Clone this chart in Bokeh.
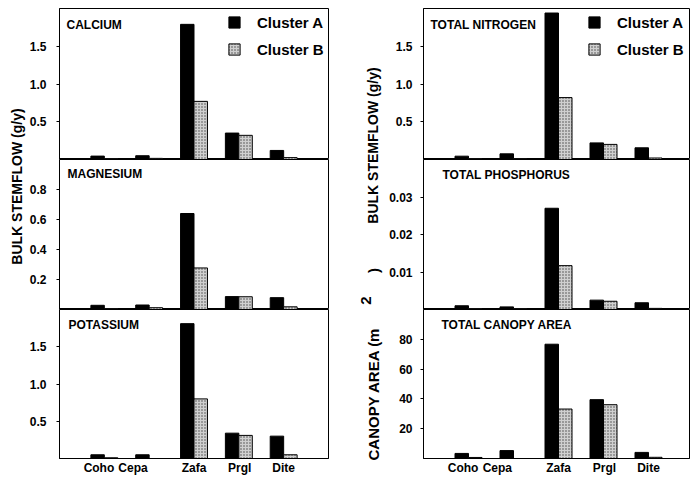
import math
from bokeh.plotting import figure
from bokeh.layouts import row, column
from bokeh.models import ColumnDataSource, FixedTicker, Label, Legend, LegendItem, Range1d
from bokeh.embed import file_html
from bokeh.resources import INLINE

# ---------------- data ----------------
categories = ["Coho", "Cepa", "Zafa", "Prgl", "Dite"]
series_names = ["Cluster A", "Cluster B"]

calcium_a = [0.045, 0.05, 1.79, 0.35, 0.12]
calcium_b = [0.01, 0.015, 0.77, 0.32, 0.025]
magnesium_a = [0.028, 0.03, 0.64, 0.086, 0.079]
magnesium_b = [0.005, 0.012, 0.277, 0.085, 0.018]
potassium_a = [0.05, 0.05, 1.81, 0.34, 0.30]
potassium_b = [0.01, 0.0, 0.80, 0.31, 0.05]
nitrogen_a = [0.044, 0.075, 1.94, 0.22, 0.155]
nitrogen_b = [0.01, 0.01, 0.82, 0.20, 0.02]
phosphorus_a = [0.001, 0.0007, 0.027, 0.0025, 0.0018]
phosphorus_b = [0.0002, 0.0002, 0.0117, 0.0022, 0.0003]
canopy_a = [3.4, 5.3, 76.7, 39.5, 4.1]
canopy_b = [0.7, 0.0, 33.2, 36.1, 0.8]

ticks_2 = [0.5, 1.0, 1.5]
ticks_2_text = ["0.5", "1.0", "1.5"]
ticks_mg = [0.2, 0.4, 0.6, 0.8]
ticks_mg_text = ["0.2", "0.4", "0.6", "0.8"]
ticks_p = [0.01, 0.02, 0.03]
ticks_p_text = ["0.01", "0.02", "0.03"]
ticks_c = [20, 40, 60, 80]
ticks_c_text = ["20", "40", "60", "80"]

# ---------------- style / layout ----------------
FONT = "Liberation Sans"
label_shift = [-0.12, -0.36, 0.0, 0.02, 0.0]


def panel(title, va, vb, ymax, ticks, tick_text, frame_w, frame_h, xmax,
          bl, br, bt, bb, standoff, tdx, tdy, legend_xy=None, show_x=False):
    p = figure(frame_width=frame_w, frame_height=frame_h,
               x_range=Range1d(0, xmax), y_range=Range1d(0, ymax),
               min_border_left=bl, min_border_right=br, min_border_top=bt,
               min_border_bottom=bb, toolbar_location=None, output_backend="svg")
    p.title.visible = False
    p.grid.visible = False
    p.outline_line_color = "black"
    p.outline_line_width = 1
    xs = [i + 1 for i in range(len(categories))]
    src = ColumnDataSource(dict(xa=[x - 0.15 for x in xs], xb=[x + 0.15 for x in xs], a=va, b=vb))
    ra = p.vbar(x="xa", top="a", bottom=0, width=0.3, source=src,
                fill_color="black", line_color="black", line_width=1)
    rb = p.vbar(x="xb", top="b", bottom=0, width=0.3, source=src,
                fill_color="#d0d0d0", line_color="black", line_width=1,
                hatch_pattern="dot", hatch_color="#444444", hatch_scale=3, hatch_weight=1)
    ya = p.yaxis[0]
    ya.ticker = FixedTicker(ticks=ticks)
    ya.major_label_overrides = {t: s for t, s in zip(ticks, tick_text)}
    ya.major_tick_out = 3
    ya.major_tick_in = 0
    ya.minor_tick_out = 0
    ya.minor_tick_in = 0
    ya.axis_line_color = "black"
    ya.major_label_standoff = standoff
    ya.major_label_text_font = FONT
    ya.major_label_text_font_style = "bold"
    ya.major_label_text_font_size = "12px"
    ya.major_label_text_color = "black"
    xa = p.xaxis[0]
    if show_x:
        pos = [x + s for x, s in zip(xs, label_shift)]
        xa.ticker = FixedTicker(ticks=pos)
        xa.major_label_overrides = {t: c for t, c in zip(pos, categories)}
        xa.major_tick_out = 0
        xa.major_tick_in = 0
        xa.minor_tick_out = 0
        xa.minor_tick_in = 0
        xa.axis_line_color = "black"
        xa.major_label_standoff = 2
        xa.major_label_text_font = FONT
        xa.major_label_text_font_style = "bold"
        xa.major_label_text_font_size = "12px"
        xa.major_label_text_color = "black"
    else:
        xa.visible = False
    p.add_layout(Label(x=tdx, y=frame_h - tdy, x_units="screen", y_units="screen", text=title,
                       text_baseline="middle", text_font=FONT, text_font_style="bold",
                       text_font_size="12px", text_color="black"))
    if legend_xy is not None:
        leg = Legend(items=[LegendItem(label=series_names[0], renderers=[ra]),
                            LegendItem(label=series_names[1], renderers=[rb])],
                     location=legend_xy, glyph_width=14, glyph_height=14, label_standoff=16,
                     spacing=7, label_height=20, padding=0, margin=0,
                     border_line_alpha=0, background_fill_alpha=0,
                     label_text_font=FONT, label_text_font_style="bold",
                     label_text_font_size="15px", label_text_color="black")
        p.add_layout(leg)
    return p


def strip(w, h):
    s = figure(frame_width=w, frame_height=h, x_range=Range1d(0, 1), y_range=Range1d(0, 1),
               min_border=0, toolbar_location=None, output_backend="svg")
    s.title.visible = False
    s.axis.visible = False
    s.grid.visible = False
    s.outline_line_color = None
    return s


TOP, H1, H2, H3, HB = 8, 151, 150, 149, 18
TOTAL_H = TOP + H1 + H2 + H3 + HB
LW, RW = 269, 266
LXMAX = 6.0
RXMAX = RW / 45.0

l1 = panel("CALCIUM", calcium_a, calcium_b, 2.0, ticks_2, ticks_2_text, LW, H1, LXMAX,
           33, 4, TOP, 0, 10, 7, 16, legend_xy=(168, H1 - 51))
l2 = panel("MAGNESIUM", magnesium_a, magnesium_b, 1.0, ticks_mg, ticks_mg_text, LW, H2, LXMAX,
           33, 4, 0, 0, 10, 8, 14)
l3 = panel("POTASSIUM", potassium_a, potassium_b, 2.0, ticks_2, ticks_2_text, LW, H3, LXMAX,
           33, 4, 0, HB, 10, 9, 15, show_x=True)

r1 = panel("TOTAL NITROGEN", nitrogen_a, nitrogen_b, 2.0, ticks_2, ticks_2_text, RW, H1, RXMAX,
           39, 1, TOP, 0, 8, 7, 16, legend_xy=(164, H1 - 51))
r2 = panel("TOTAL PHOSPHORUS", phosphorus_a, phosphorus_b, 0.04, ticks_p, ticks_p_text, RW, H2, RXMAX,
           39, 1, 0, 0, 8, 19, 15)
r3 = panel("TOTAL CANOPY AREA", canopy_a, canopy_b, 100, ticks_c, ticks_c_text, RW, H3, RXMAX,
           39, 1, 0, HB, 8, 18, 15, show_x=True)

ls = strip(26, TOTAL_H)
ls.add_layout(Label(x=16.5, y=TOTAL_H - 186, x_units="screen", y_units="screen",
                    text="BULK STEMFLOW (g/y)", angle=math.pi / 2, text_align="center",
                    text_baseline="middle", text_font=FONT, text_font_style="bold",
                    text_font_size="14px", text_color="black"))

rs = strip(52, TOTAL_H)
rs.add_layout(Label(x=40.5, y=TOTAL_H - 145, x_units="screen", y_units="screen",
                    text="BULK STEMFLOW (g/y)", angle=math.pi / 2, text_align="center",
                    text_baseline="middle", text_font=FONT, text_font_style="bold",
                    text_font_size="14px", text_color="black"))
rs.add_layout(Label(x=40.5, y=TOTAL_H - 460, x_units="screen", y_units="screen",
                    text="CANOPY AREA (m", angle=math.pi / 2, text_align="left",
                    text_baseline="middle", text_font=FONT, text_font_style="bold",
                    text_font_size="15px", text_color="black"))
rs.add_layout(Label(x=33, y=TOTAL_H - 300, x_units="screen", y_units="screen",
                    text="2", angle=math.pi / 2, text_align="center",
                    text_baseline="middle", text_font=FONT, text_font_style="bold",
                    text_font_size="15px", text_color="black"))
rs.add_layout(Label(x=40.5, y=TOTAL_H - 270, x_units="screen", y_units="screen",
                    text=")", angle=math.pi / 2, text_align="center",
                    text_baseline="middle", text_font=FONT, text_font_style="bold",
                    text_font_size="15px", text_color="black"))

layout = row(ls, column(l1, l2, l3), rs, column(r1, r2, r3))

open("out.html", "w").write(file_html(layout, INLINE))
